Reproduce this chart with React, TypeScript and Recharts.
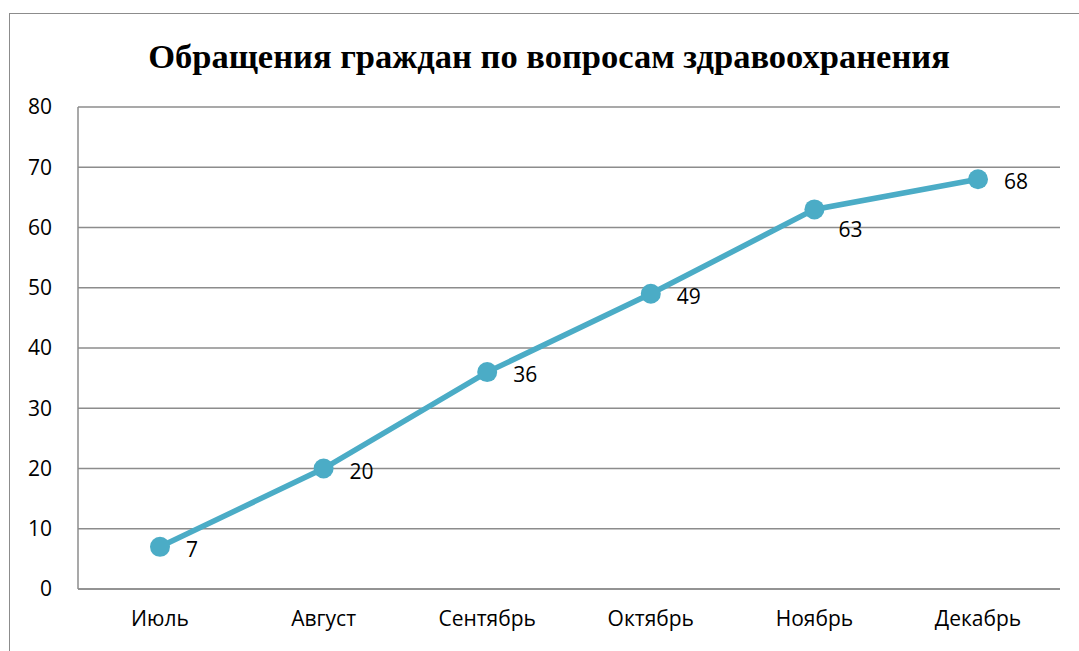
import React from 'react';
import { LineChart, Line, XAxis, YAxis, CartesianGrid, LabelList } from 'recharts';

const months = ['Июль', 'Август', 'Сентябрь', 'Октябрь', 'Ноябрь', 'Декабрь'];
const appeals = [7, 20, 36, 49, 63, 68];
const yTicks = [0, 10, 20, 30, 40, 50, 60, 70, 80];

const chartData = months.map((m, i) => ({ month: m, value: appeals[i] }));

const LINE_COLOR = '#4bacc6';
const GRID_COLOR = '#8c8c8c';
const LABEL_FONT = '"Open Sans", "Noto Sans", sans-serif';
const FONT_SIZE = 21;

const ValueLabel = (props: any) => {
  const { x, y, value, index } = props;
  // Ноябрь label sits below the point, the others beside it
  const below = index === 4;
  return (
    <text
      x={x + (below ? 24 : 26)}
      y={y + (below ? 20 : 2)}
      textAnchor="start"
      dominantBaseline="central"
      fontSize={FONT_SIZE}
      fontFamily={LABEL_FONT}
      fill="#000"
    >
      {value}
    </text>
  );
};

export default function App() {
  return (
    <div
      style={{
        position: 'fixed', left: 0, top: 0, width: 1079, height: 651,
        overflow: 'hidden', background: '#fff',
      }}
    >
      <div
        style={{
          position: 'absolute', left: 9, top: 13, width: 1200, height: 800,
          border: '1.5px solid #8c8c8c', boxSizing: 'border-box',
        }}
      />
      <div
        style={{
          position: 'absolute', left: 0, top: 35, width: 1098, textAlign: 'center',
          fontFamily: '"Liberation Serif", "Times New Roman", serif',
          fontWeight: 'bold', fontSize: 34.5, color: '#000', lineHeight: '42px',
        }}
      >
        Обращения граждан по вопросам здравоохранения
      </div>
      <div style={{ position: 'absolute', left: 0, top: 0 }}>
        <LineChart
          width={1079}
          height={651}
          data={chartData}
          margin={{ top: 107, right: 19, bottom: 22, left: 0 }}
        >
          <CartesianGrid vertical={false} stroke={GRID_COLOR} strokeWidth={1.5} />
          <XAxis
            dataKey="month"
            height={40}
            padding={{ left: 82, right: 82 }}
            axisLine={{ stroke: GRID_COLOR, strokeWidth: 1.5 }}
            tickLine={false}
            tickSize={0}
            tickMargin={22}
            tick={{ fontSize: FONT_SIZE, fill: '#000', fontFamily: LABEL_FONT }}
            interval={0}
          />
          <YAxis
            width={78}
            domain={[0, 80]}
            ticks={yTicks}
            axisLine={{ stroke: GRID_COLOR, strokeWidth: 1.5 }}
            tickLine={false}
            tickSize={0}
            tickMargin={26}
            tick={{ fontSize: FONT_SIZE, fill: '#000', fontFamily: LABEL_FONT }}
          />
          <Line
            type="linear"
            dataKey="value"
            stroke={LINE_COLOR}
            strokeWidth={5.5}
            dot={{ r: 10, fill: LINE_COLOR, stroke: LINE_COLOR, strokeWidth: 0 }}
            isAnimationActive={false}
          >
            <LabelList dataKey="value" content={<ValueLabel />} />
          </Line>
        </LineChart>
      </div>
    </div>
  );
}
